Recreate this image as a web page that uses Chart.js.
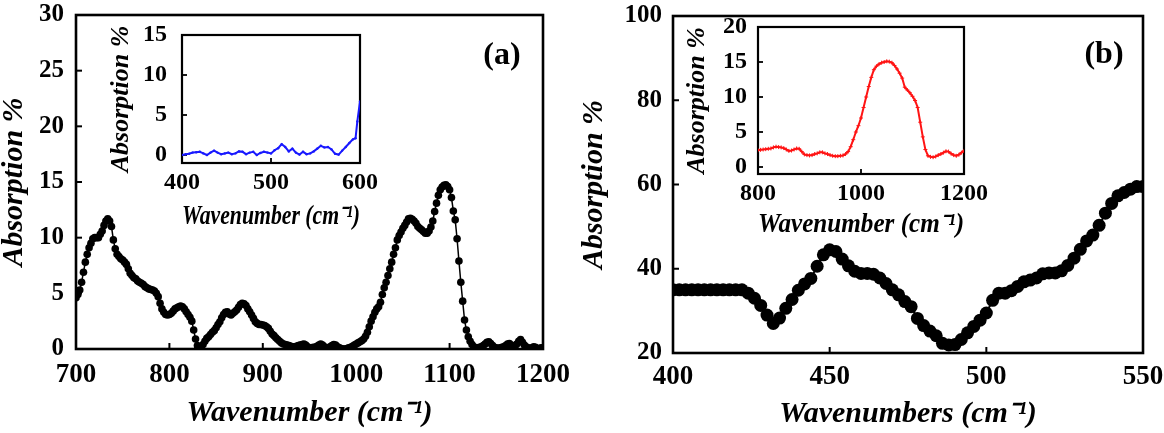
<!DOCTYPE html>
<html><head><meta charset="utf-8">
<script src="https://cdn.jsdelivr.net/npm/chart.js@4.4.1/dist/chart.umd.min.js"></script>
<style>
html,body{margin:0;padding:0;background:#fff;}
#wrap{position:relative;width:1164px;height:433px;overflow:hidden;background:#fff;}
canvas{position:absolute;}
.lbl{position:absolute;font:bold 32px 'Liberation Serif',serif;color:#000;line-height:1;transform:translate(-50%,-50%);}
</style></head><body>
<div id="wrap">
<canvas id="cA" width="580" height="433" style="left:0;top:0"></canvas>
<canvas id="cB" width="584" height="433" style="left:580px;top:0"></canvas>
<canvas id="cC" width="285" height="215" style="left:100px;top:22px"></canvas>
<canvas id="cD" width="320" height="227" style="left:670px;top:14px"></canvas>
<div class="lbl" style="left:502px;top:53px">(a)</div>
<div class="lbl" style="left:1104px;top:52px">(b)</div>
</div>
<script>
// ---------- DATA ----------
// Panel (a): main spectrum, wavenumbers 700..1200 every 2 cm-1
const mainA_start = 700, mainA_step = 2;
const mainA_absorption = [
4.6,4.9,5.3,6.0,6.9, 7.8,8.5,9.1,9.5,9.9, 10.0,10.0,10.0,10.3,10.6, 11.1,11.5,11.7,11.5,11.0,
9.8,9.0,8.5,8.3,8.1, 8.0,7.8,7.6,7.2,6.8, 6.6,6.4,6.3,6.1,6.0, 5.9,5.8,5.6,5.5,5.4,
5.35,5.3,5.2,5.0,4.7, 4.1,3.6,3.3,3.1,3.05, 3.1,3.2,3.4,3.6,3.7, 3.8,3.85,3.8,3.6,3.35,
3.1,2.85,2.5,1.7,0.9, 0.3,0.05,0.15,0.4,0.7, 0.95,1.1,1.3,1.5,1.65, 1.9,2.2,2.45,2.8,3.1,
3.3,3.35,3.15,3.05,3.2, 3.35,3.5,3.75,4.0,4.1, 4.05,3.9,3.6,3.35,3.05, 2.75,2.45,2.3,2.2,2.2,
2.15,2.1,2.0,1.85,1.6, 1.35,1.2,1.0,0.85,0.7, 0.55,0.45,0.4,0.35,0.3, 0.25,0.2,0.2,0.25,0.3,
0.35,0.4,0.45,0.35,0.2, 0.1,0.1,0.15,0.15,0.25, 0.35,0.45,0.35,0.2,0.1, 0.1,0.2,0.3,0.4,0.35,
0.2,0.1,0.05,0.0,0.0, 0.05,0.1,0.15,0.25,0.35, 0.45,0.55,0.65,0.75,0.9, 1.15,1.5,2.0,2.5,2.9,
3.3,3.6,3.8,4.2,4.9, 5.5,6.0,6.6,7.2,7.8, 8.5,9.1,9.8,10.2,10.5, 10.85,11.1,11.4,11.7,11.75,
11.65,11.5,11.3,11.0,10.85, 10.7,10.55,10.4,10.4,10.6, 10.95,11.5,12.35,13.1,13.8, 14.3,14.55,14.7,14.75,14.6,
14.3,13.6,12.4,11.6,9.9, 7.9,6.0,4.3,2.6,1.7, 1.1,0.7,0.4,0.2,0.1, 0.1,0.15,0.2,0.3,0.45,
0.6,0.65,0.5,0.3,0.15, 0.1,0.05,0.1,0.15,0.2, 0.3,0.45,0.5,0.35,0.2, 0.25,0.45,0.7,0.85,0.6,
0.35,0.2,0.1,0.05,0.1, 0.2,0.15,0.05,0.05,0.1,
0.1];
const mainA_xTicks = [700, 800, 900, 1000, 1100, 1200];
const mainA_yTicks = [0, 5, 10, 15, 20, 25, 30];

// Panel (a) inset: 400..600 cm-1 (blue)
const insetA_wavenumber = [400,404,408,412,416,420,424,428,432,436,440,444,448,452,456,460,464,468,472,476,
480,484,488,492,496,500,504,508,512,516,520,524,528,532,536,540,544,548,552,556,
560,564,568,572,576,580,584,588,592,595,597,600];
const insetA_absorption = [0.0,0.1,0.15,0.3,0.35,0.4,0.2,0.0,0.3,0.55,0.3,0.1,0.2,0.3,0.1,0.2,0.45,0.4,0.1,0.3,
0.4,0.0,0.25,0.4,0.3,0.2,0.6,0.85,1.35,1.0,0.45,0.8,0.3,0.05,0.4,0.1,0.2,0.45,0.8,1.15,
0.95,1.0,0.7,0.15,0.05,0.55,1.0,1.5,1.95,2.1,4.2,6.7];
const insetA_xTicks = [400, 500, 600];
const insetA_yTicks = [0, 5, 10, 15];

// Panel (b): main spectrum, wavenumbers 400..550 every 2 cm-1
const mainB_start = 400, mainB_step = 2;
const mainB_absorption = [
35,35,35,35,35,35,35,35,35,35,35,35,
34.2,33.0,31.3,29.0,27.0,28.3,30.6,32.7,34.9,36.4,
37.7,40.6,43.3,44.5,44.1,42.3,40.7,39.4,38.9,38.9,
38.7,37.8,36.5,35.0,33.8,32.2,31.0,28.2,26.5,25.2,
24.1,22.3,21.9,22.0,23.2,24.8,26.3,27.8,29.5,32.5,
34.2,34.2,34.8,35.8,36.9,37.3,37.8,38.8,39.0,39.0,
39.5,40.8,42.5,44.6,46.6,48.0,50.3,53.2,55.5,57.3,
58.1,58.9,59.5,59.5];
const mainB_xTicks = [400, 450, 500, 550];
const mainB_yTicks = [20, 40, 60, 80, 100];

// Panel (b) inset: 800..1200 cm-1 every 5 (red)
const insetB_start = 800, insetB_step = 5;
const insetB_absorption = [
2.4,2.45,2.5,2.55,2.6,2.65,2.8,2.9,2.85,2.8,2.7,2.5,2.3,2.35,2.5,2.65,2.6,2.2,1.8,1.7,
1.65,1.7,1.85,1.95,2.1,2.1,1.95,1.85,1.7,1.6,1.55,1.55,1.6,1.65,1.85,2.2,2.9,3.9,5.0,5.9,
7.0,8.5,10.0,11.5,12.8,13.9,14.4,14.7,14.9,15.0,15.1,15.05,14.9,14.5,14.0,13.4,12.7,11.4,11.0,10.6,
10.1,9.5,8.5,6.4,4.3,2.5,1.6,1.45,1.4,1.5,1.7,1.85,2.05,2.25,2.2,1.9,1.7,1.6,1.75,2.05,
2.3];
const insetB_xTicks = [800, 1000, 1200];
const insetB_yTicks = [0, 5, 10, 15, 20];

// ---------- RENDER ----------
const F = "'Liberation Serif','Times New Roman',serif";
const gridX = (start, step, n) => Array.from({length: n}, (_, i) => start + i * step);

const framePlugin = {
  id: 'frame',
  beforeDatasetsDraw(chart, args, opts) {
    const {ctx, chartArea: a, scales} = chart;
    ctx.save();
    ctx.strokeStyle = '#000';
    ctx.lineWidth = opts.lw;
    ctx.strokeRect(a.left, a.top, a.right - a.left, a.bottom - a.top);
    ctx.lineWidth = opts.tw;
    scales.x.ticks.forEach(t => {
      const p = scales.x.getPixelForValue(t.value);
      ctx.beginPath(); ctx.moveTo(p, a.bottom); ctx.lineTo(p, a.bottom - opts.tick); ctx.stroke();
    });
    scales.y.ticks.forEach(t => {
      const p = scales.y.getPixelForValue(t.value);
      ctx.beginPath(); ctx.moveTo(a.left, p); ctx.lineTo(a.left + opts.tick, p); ctx.stroke();
    });
    ctx.restore();
  }
};

function makeChart(id, o) {
  return new Chart(document.getElementById(id), {
    type: 'line',
    data: {
      datasets: [{
        data: o.x.map((x, i) => ({x: x, y: o.y[i]})),
        borderColor: o.color, backgroundColor: o.color,
        borderWidth: o.lw, pointRadius: o.pr, pointStyle: o.ps,
        pointBackgroundColor: o.color, pointBorderColor: o.color, pointBorderWidth: o.pbw,
        tension: 0, fill: false
      }]
    },
    options: {
      responsive: false, animation: false, events: [],
      layout: {padding: o.pad},
      plugins: {legend: {display: false}, tooltip: {enabled: false},
                frame: {lw: o.frameW, tw: o.tickW, tick: o.tickLen}},
      scales: {
        x: {
          type: 'linear', min: o.xmin, max: o.xmax,
          afterBuildTicks: s => { s.ticks = o.xticks.map(v => ({value: v})); },
          grid: {display: false, drawTicks: false}, border: {display: false},
          ticks: {padding: o.xtp, color: '#000', maxRotation: 0, minRotation: 0, autoSkip: false,
                  font: {family: F, weight: 'bold', size: o.xfs}, callback: v => String(v)},
          title: {display: true, text: o.xtitle, color: '#000',
                  font: {family: F, weight: 'bold', style: 'italic', size: o.xts},
                  padding: {top: 0, bottom: o.xtpb}},
          afterFit: s => { s.height = o.xh; s.paddingLeft = s.paddingRight = s.paddingTop = s.paddingBottom = 0; }
        },
        y: {
          type: 'linear', min: o.ymin, max: o.ymax,
          afterBuildTicks: s => { s.ticks = o.yticks.map(v => ({value: v})); },
          grid: {display: false, drawTicks: false}, border: {display: false},
          ticks: {padding: o.ytp, color: '#000',
                  font: {family: F, weight: 'bold', size: o.yfs}, callback: v => String(v)},
          title: {display: true, text: 'Absorption %', color: '#000',
                  font: {family: F, weight: 'bold', style: 'italic', size: o.yts},
                  padding: {top: o.ytpt, bottom: 0}},
          afterFit: s => { s.width = o.yw; s.paddingLeft = s.paddingRight = s.paddingTop = s.paddingBottom = 0; }
        }
      }
    },
    plugins: [framePlugin]
  });
}

// Main (a)
makeChart('cA', {
  x: gridX(mainA_start, mainA_step, mainA_absorption.length), y: mainA_absorption,
  color: '#000', lw: 1.5, pr: 3.8, ps: 'circle', pbw: 0,
  pad: {left: 0, top: 15, right: 37, bottom: 0},
  xmin: 700, xmax: 1200, xticks: mainA_xTicks, ymin: 0, ymax: 30, yticks: mainA_yTicks,
  xfs: 27, xtp: 10, xtitle: 'Wavenumber (cm\u207B\u00B9)', xts: 30, xtpb: 2, xh: 84,
  yfs: 25, ytp: 12, yts: 30, ytpt: -4, yw: 76,
  frameW: 2.6, tickW: 2, tickLen: 6
});
// Main (b)
makeChart('cB', {
  x: gridX(mainB_start, mainB_step, mainB_absorption.length), y: mainB_absorption,
  color: '#000', lw: 2, pr: 6.5, ps: 'circle', pbw: 0,
  pad: {left: 0, top: 16, right: 21, bottom: 0},
  xmin: 400, xmax: 550, xticks: mainB_xTicks, ymin: 20, ymax: 100, yticks: mainB_yTicks,
  xfs: 27, xtp: 8, xtitle: 'Wavenumbers (cm\u207B\u00B9)', xts: 30, xtpb: 1, xh: 80,
  yfs: 25, ytp: 11, yts: 30, ytpt: -4, yw: 93,
  frameW: 2.6, tickW: 2, tickLen: 6
});
// Inset (a)
makeChart('cC', {
  x: insetA_wavenumber, y: insetA_absorption,
  color: 'rgb(25,25,255)', lw: 2, pr: 1.2, ps: 'circle', pbw: 0,
  pad: {left: 0, top: 13, right: 25, bottom: 0},
  xmin: 400, xmax: 600, xticks: insetA_xTicks, ymin: -1, ymax: 15, yticks: insetA_yTicks,
  xfs: 24, xtp: 5, xtitle: 'Wavenumber (cm\u207B\u00B9)', xts: 27, xtpb: 4, xh: 74,
  yfs: 24, ytp: 15, yts: 26, ytpt: 6, yw: 82,
  frameW: 2.2, tickW: 1.8, tickLen: 5
});
// Inset (b)
makeChart('cD', {
  x: gridX(insetB_start, insetB_step, insetB_absorption.length), y: insetB_absorption,
  color: 'rgb(255,20,20)', lw: 2, pr: 2, ps: 'cross', pbw: 1,
  pad: {left: 0, top: 13, right: 26, bottom: 0},
  xmin: 800, xmax: 1200, xticks: insetB_xTicks, ymin: -1, ymax: 20, yticks: insetB_yTicks,
  xfs: 24, xtp: 5, xtitle: 'Wavenumber (cm\u207B\u00B9)', xts: 27, xtpb: 0, xh: 67,
  yfs: 24, ytp: 11, yts: 26, ytpt: 12, yw: 88,
  frameW: 2.2, tickW: 1.8, tickLen: 5
});
</script>
</body></html>
